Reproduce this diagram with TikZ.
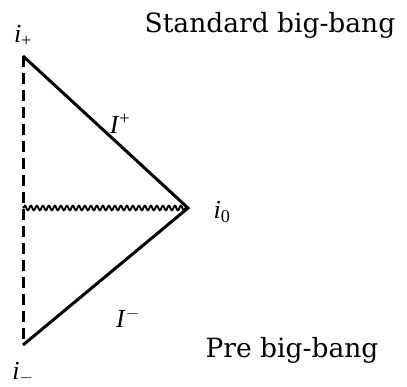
\documentclass[tikz,border=0pt]{standalone}
\usepackage{fontspec}
\setmainfont{DejaVu Serif}
\newfontfamily\lblfont{Liberation Serif}
\usetikzlibrary{decorations.pathmorphing}

\begin{document}
\begin{tikzpicture}[x=1pt, y=-1pt, line width=3pt,
  lbl/.style={font=\lblfont\fontsize{26}{28}\selectfont},
  title/.style={font=\fontsize{26.5}{29}\selectfont}]
\useasboundingbox (0,0) rectangle (407,386);
\coordinate (ip) at (23,56);
\coordinate (im) at (23,345);
\coordinate (io) at (188,208);
\coordinate (mid) at (23,208);

\draw[dash pattern=on 11pt off 6pt] (ip) -- (im);
\draw[line join=miter] (ip) -- (io) -- (im);
\draw[line width=2pt, decorate, decoration={snake, amplitude=2.2pt, segment length=6pt}] (mid) -- (io);

\node[lbl] (lip) at (23,36) {\textit{i}\textsubscript{+}};
\node[lbl] (lim) at (23,373) {\textit{i}\textsubscript{$-$}};
\node[lbl] (lio) at (222,212) {\textit{i}\textsubscript{0}};
\node[lbl] (lIp) at (120,124) {\textit{I}\textsuperscript{+}};
\node[lbl] (lIm) at (128,318) {\textit{I}\textsuperscript{$-$}};
\node[title] (std) at (270,25) {Standard big-bang};
\node[title] (pre) at (292,350) {Pre big-bang};
\end{tikzpicture}
\end{document}
